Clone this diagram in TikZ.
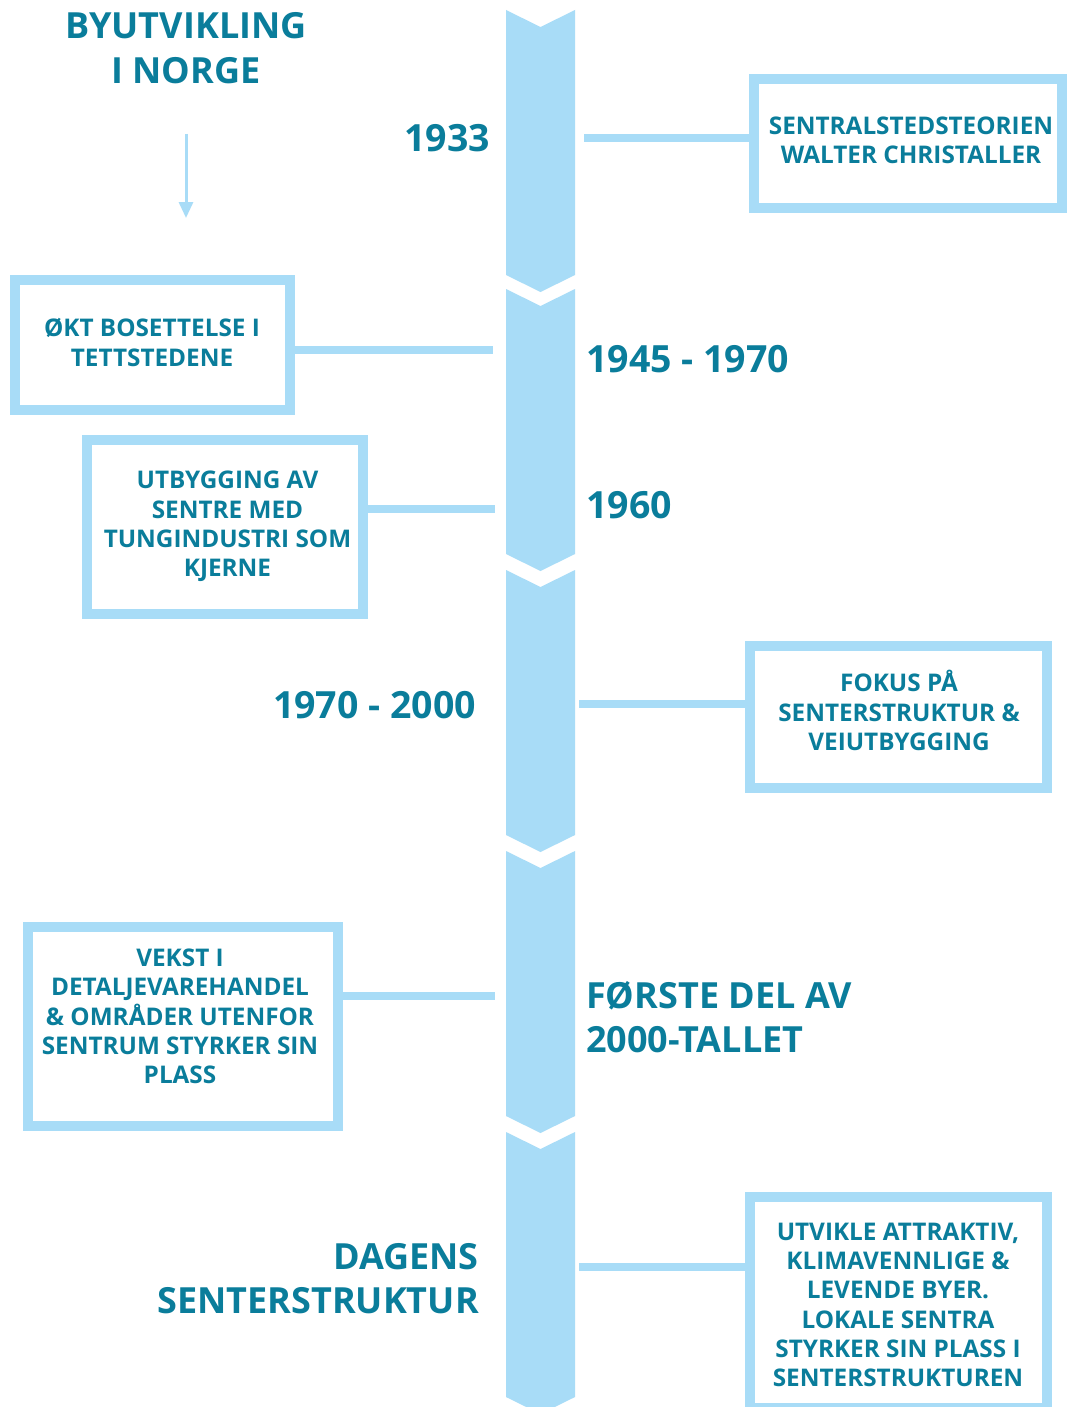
\documentclass[tikz,border=0pt]{standalone}
\usepackage{fontspec}
\setmainfont{Open Sans}
\usetikzlibrary{arrows.meta}
\definecolor{txt}{RGB}{10,125,155}
\definecolor{lb}{RGB}{168,220,247}
\begin{document}
\begin{tikzpicture}[x=1pt,y=-1pt,
  box/.style={draw=lb, line width=10pt, fill=white, inner sep=0pt, rectangle},
  boxtext/.style={text=txt, font=\fontsize{24.3}{29.3}\selectfont\bfseries, align=center, inner sep=0pt},
  bigtext/.style={text=txt, font=\fontsize{36}{44.5}\selectfont\bfseries, inner sep=0pt},
  yeartext/.style={text=txt, font=\fontsize{37.5}{44.5}\selectfont\bfseries, inner sep=0pt},
  conn/.style={draw=lb, line width=8pt},
]
\useasboundingbox (0,0) rectangle (1066,1407);
\fill[white] (0,0) rectangle (1066,1407);

% spine
\foreach \y in {10,289,570,851,1132}
  \fill[lb] (506,\y) -- (540.5,\y+17) -- (575,\y) -- (575,\y+265) -- (540.5,\y+282) -- (506,\y+265) -- cycle;

% title and arrow
\node[bigtext, align=center] (title) at (186,48) {BYUTVIKLING\\I NORGE};
\coordinate (a1) at (186,134);
\coordinate (a2) at (186,218);
\draw[lb, line width=3pt, -{Triangle[width=14pt,length=16pt]}] (a1) -- (a2);

% free ends on the spine
\coordinate (c1) at (584,138);
\coordinate (c2) at (493,350);
\coordinate (c3) at (495,509);
\coordinate (c4) at (579,704);
\coordinate (c5) at (495,996);
\coordinate (c6) at (579,1267);

% boxes
\node[box, minimum width=308pt, minimum height=129pt] (b1) at (908,143.5) {};
\node[boxtext] (t1) at (911,140) {SENTRALSTEDSTEORIEN\\WALTER CHRISTALLER};
\node[box, minimum width=275pt, minimum height=130pt] (b2) at (152.5,345) {};
\node[boxtext] (t2) at (152,342.5) {ØKT BOSETTELSE I\\TETTSTEDENE};
\node[box, minimum width=276pt, minimum height=174pt] (b3) at (225,527) {};
\node[boxtext] (t3) at (227.5,526.5) {UTBYGGING AV\\SENTRE MED\\TUNGINDUSTRI SOM\\KJERNE};
\node[box, minimum width=297pt, minimum height=142pt] (b4) at (898.5,717) {};
\node[boxtext] (t4) at (899,710.5) {FOKUS PÅ\\SENTERSTRUKTUR \&\\VEIUTBYGGING};
\node[box, minimum width=310pt, minimum height=199pt] (b5) at (183,1026.5) {};
\node[boxtext] (t5) at (180,1016.5) {VEKST I\\DETALJEVAREHANDEL\\\& OMRÅDER UTENFOR\\SENTRUM STYRKER SIN\\PLASS};
\node[box, minimum width=297pt, minimum height=211pt] (b6) at (898.5,1302.5) {};
\node[boxtext] (t6) at (898,1305) {UTVIKLE ATTRAKTIV,\\KLIMAVENNLIGE \&\\LEVENDE BYER.\\LOKALE SENTRA\\STYRKER SIN PLASS I\\SENTERSTRUKTUREN};

% connectors
\draw[conn] (c1) -- (b1.west |- c1);
\draw[conn] (b2.east |- c2) -- (c2);
\draw[conn] (b3.east |- c3) -- (c3);
\draw[conn] (c4) -- (b4.west |- c4);
\draw[conn] (b5.east |- c5) -- (c5);
\draw[conn] (c6) -- (b6.west |- c6);

% period labels
\node[yeartext, anchor=base east] (p1) at (490,152) {1933};
\node[yeartext, anchor=base west] (p2) at (586,372) {1945 - 1970};
\node[yeartext, anchor=base west] (p3) at (586,518) {1960};
\node[yeartext, anchor=base east] (p4) at (476,718) {1970 - 2000};
\node[bigtext, anchor=west, align=left] (p5) at (586,1017) {FØRSTE DEL AV\\2000-TALLET};
\node[bigtext, anchor=east, align=right] (p6) at (479,1278.5) {DAGENS\\SENTERSTRUKTUR};
\end{tikzpicture}
\end{document}
